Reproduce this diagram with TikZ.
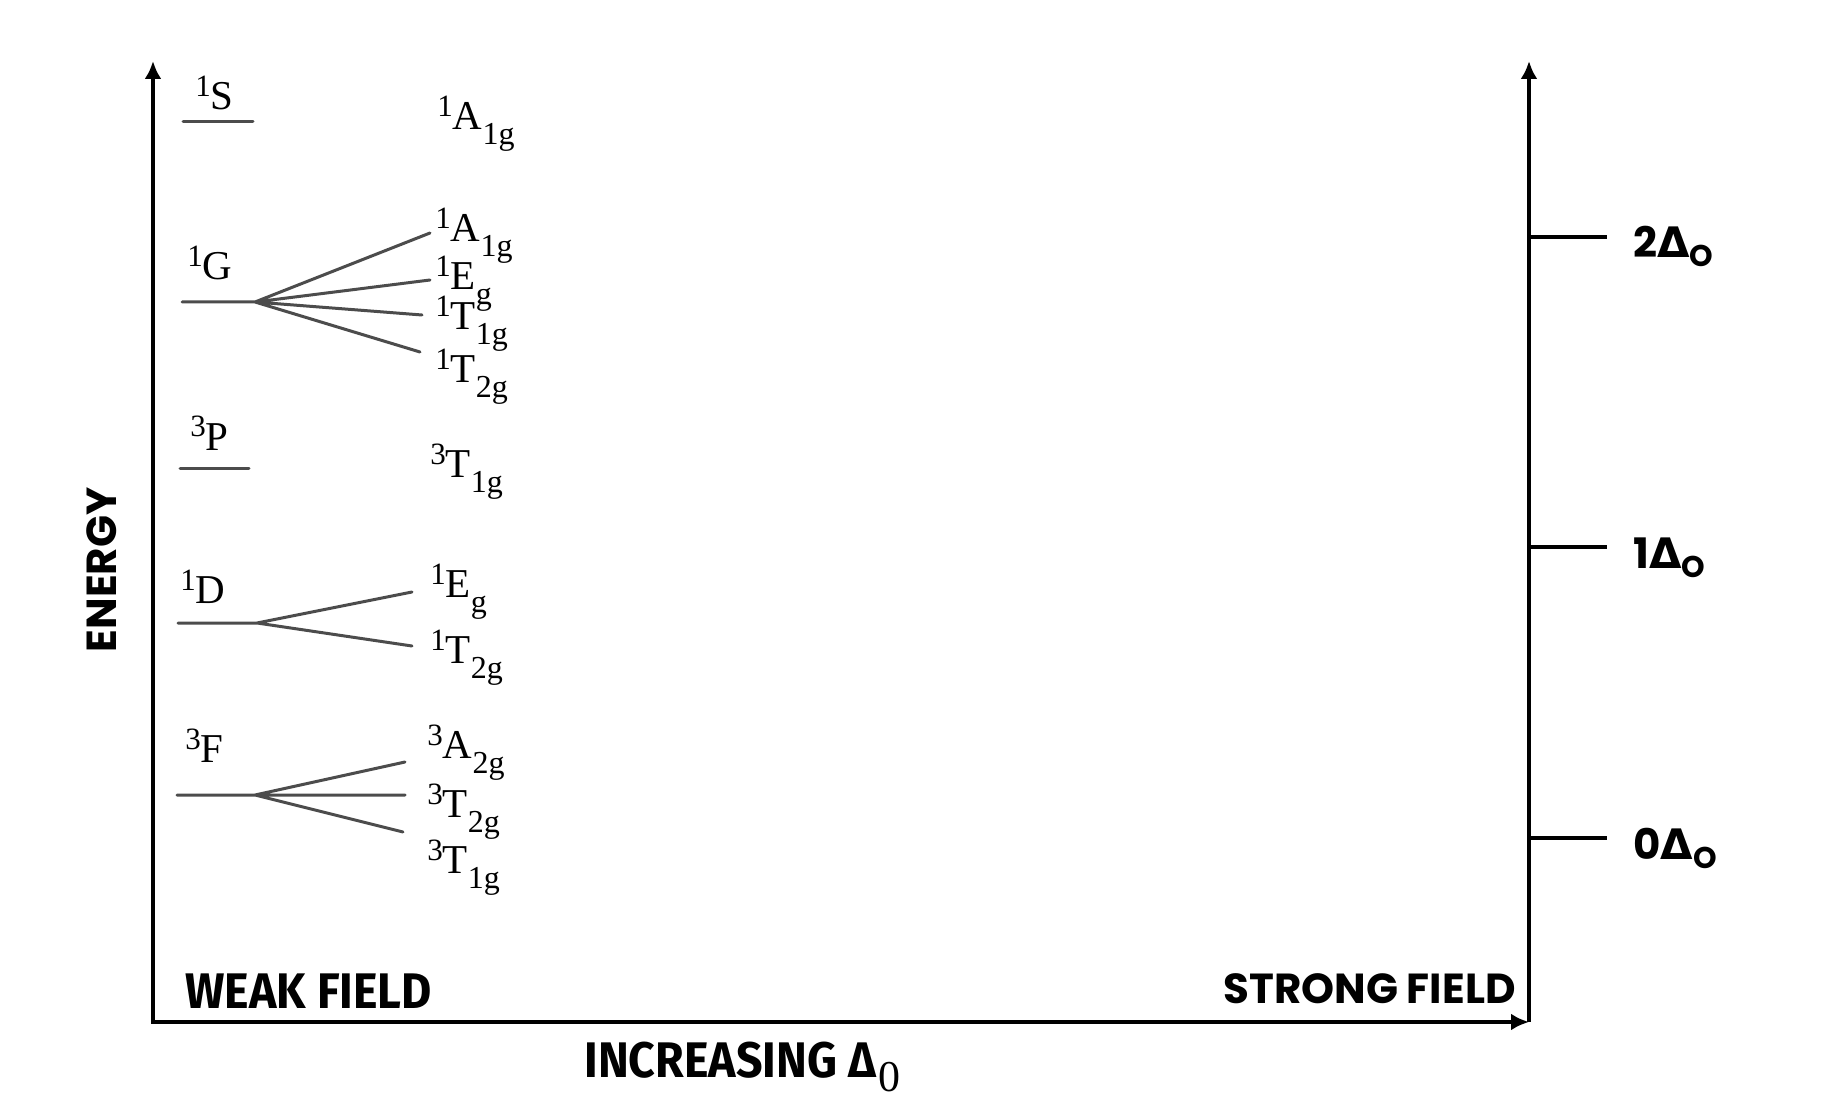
\documentclass[tikz,border=0pt]{standalone}
\usepackage{fontspec}
\usepackage{graphicx}
\setmainfont{Liberation Serif}
\newfontfamily\condfont[FakeStretch=0.93]{Fira Sans}
\newfontfamily\geofont{Poppins}
\newfontfamily\grkfont{DejaVu Sans}
\usetikzlibrary{arrows.meta,positioning}

% term symbols: ^{mult}Letter_{sub}
\newcommand{\ion}[2]{\raisebox{6.5pt}{\fontsize{15.5}{15.5}\selectfont #1}#2}
\newcommand{\oct}[3]{\raisebox{6.5pt}{\fontsize{15.5}{15.5}\selectfont #1}#2\raisebox{-7.5pt}{\fontsize{16}{16}\selectfont #3}}
\newcommand{\dlt}[1]{#1{\grkfont\bfseries Δ}\raisebox{-4.5pt}{\fontsize{15}{15}\selectfont O}}

\begin{document}
\begin{tikzpicture}[x=0.5pt,y=-0.5pt,
  axis/.style={line width=2.4pt},
  level/.style={line width=1.5pt,draw=black!70,line cap=round},
  tick/.style={line width=1.8pt},
  term/.style={font=\fontsize{20.5}{20.5}\selectfont,inner sep=0pt,anchor=base west},
  dlab/.style={font=\fontsize{21}{21}\geofont\bfseries,inner sep=0pt,anchor=base west},
  field/.style={font=\fontsize{25}{25}\condfont\bfseries,inner sep=0pt},
  strong/.style={font=\fontsize{21}{21}\geofont\bfseries,inner sep=0pt}]
  \useasboundingbox (0,0) rectangle (1846,1117);

  % axes
  \coordinate (Ytop) at (153,61);
  \coordinate (O)    at (153,1022);
  \coordinate (R)    at (1529,1022);
  \coordinate (Rtop) at (1529,61);
  \draw[axis,{Latex[length=9pt,width=8.5pt]}-{Latex[length=9pt,width=8.5pt]}] (Ytop) |- (R);
  \draw[axis,-{Latex[length=9pt,width=8.5pt]}] (R) -- (Rtop);

  \node[strong,rotate=90] (energy) at (102,570) {ENERGY};
  \node[field,anchor=base west] (weak) at (185,1008) {WEAK FIELD};
  \node[strong,anchor=base east] (strongf) at (1516,1003) {STRONG FIELD};
  \node[field,anchor=base west] (incr) at (584,1077)
    {INCREASING Δ\kern1pt\raisebox{-7pt}{\fontsize{22}{22}\normalfont\selectfont 0}};

  % scale on the right
  \foreach \n/\yy in {0/838,1/547,2/237} {
    \coordinate (t\n) at (1529,\yy);
    \coordinate (te\n) at (1607,\yy);
    \draw[tick] (t\n) -- (te\n);
    \node[dlab] (d\n) at ([xshift=13pt,yshift=-10.5pt]te\n) {\dlt{\n}};
  }

  % 1S
  \node[term] (S) at (195,110) {\ion{1}{S}};
  \coordinate (S-l) at (183,122);
  \coordinate (S-r) at (253,122);
  \draw[level] (S-l) -- (S-r);
  \node[term] (SA) at (437,130) {\oct{1}{A}{1g}};

  % 1G
  \node[term] (G) at (187,280) {\ion{1}{G}};
  \coordinate (G-l) at (182,302);
  \coordinate (G-r) at (255,302);
  \coordinate (Ga)  at (430,233);
  \coordinate (Ge)  at (430,280);
  \coordinate (Gt1) at (422,315);
  \coordinate (Gt2) at (420,352);
  \draw[level] (G-l) -- (G-r) -- (Ga) (G-r) -- (Ge) (G-r) -- (Gt1) (G-r) -- (Gt2);
  \node[term] (GA)  at (435,242) {\oct{1}{A}{1g}};
  \node[term] (GE)  at (435,290) {\oct{1}{E}{g}};
  \node[term] (GT1) at (435,330) {\oct{1}{T}{1g}};
  \node[term] (GT2) at (435,383) {\oct{1}{T}{2g}};

  % 3P
  \node[term] (P) at (190,450) {\ion{3}{P}};
  \coordinate (P-l) at (180,468);
  \coordinate (P-r) at (249,468);
  \draw[level] (P-l) -- (P-r);
  \node[term] (PT) at (430,477) {\oct{3}{T}{1g}};

  % 1D
  \node[term] (D) at (180,603) {\ion{1}{D}};
  \coordinate (D-l) at (178,623);
  \coordinate (D-r) at (257,623);
  \coordinate (De)  at (412,592);
  \coordinate (Dt)  at (412,646);
  \draw[level] (D-l) -- (D-r) -- (De) (D-r) -- (Dt);
  \node[term] (DE) at (430,597) {\oct{1}{E}{g}};
  \node[term] (DT) at (430,663) {\oct{1}{T}{2g}};

  % 3F
  \node[term] (F) at (185,762) {\ion{3}{F}};
  \coordinate (F-l) at (177,795);
  \coordinate (F-r) at (255,795);
  \coordinate (Fa)  at (405,762);
  \coordinate (Ft2) at (405,795);
  \coordinate (Ft1) at (403,832);
  \draw[level] (F-l) -- (F-r) -- (Fa) (F-r) -- (Ft2) (F-r) -- (Ft1);
  \node[term] (FA)  at (427,758) {\oct{3}{A}{2g}};
  \node[term] (FT2) at (427,817) {\oct{3}{T}{2g}};
  \node[term] (FT1) at (427,873) {\oct{3}{T}{1g}};
\end{tikzpicture}
\end{document}
